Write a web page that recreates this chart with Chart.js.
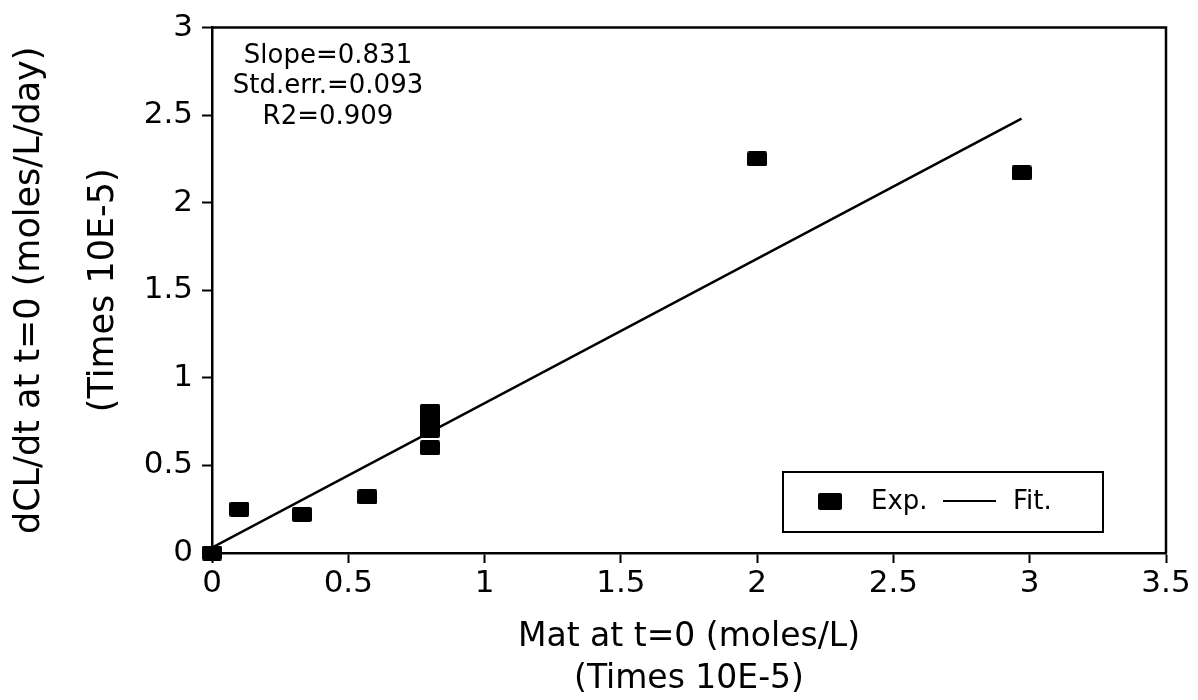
<!DOCTYPE html>
<html>
<head>
<meta charset="utf-8">
<script src="https://cdn.jsdelivr.net/npm/chart.js@4.4.0/dist/chart.umd.min.js"></script>
<style>
  html, body { margin:0; padding:0; background:#fff; }
</style>
</head>
<body>
<canvas id="chart" width="1198" height="700"></canvas>
<script>
// measured points (Times 10E-5)
let expX = [0, 0.1, 0.33, 0.57, 0.8, 0.8, 0.8, 0.8, 2.0, 2.97];
let expY = [0, 0.25, 0.22, 0.32, 0.6, 0.7, 0.75, 0.81, 2.25, 2.17];
// fitted line ends
let fitX = [0, 2.97];
let fitY = [0.03, 2.48];
let statLines = ['Slope=0.831', 'Std.err.=0.093', 'R2=0.909'];
let xTitle = ['Mat at t=0 (moles/L)', '(Times 10E-5)'];
let yTitle = ['dCL/dt at t=0 (moles/L/day)', '(Times 10E-5)'];

Chart.defaults.font.family = "'DejaVu Sans', sans-serif";
Chart.defaults.color = '#000';

function block(w, h){
    let c = document.createElement('canvas');
    c.width = w; c.height = h;
    let g = c.getContext('2d');
    g.fillStyle = '#000';
    g.beginPath();
    g.roundRect(0, 0, w, h, 2);
    g.fill();
    return c;
}

const extras = {
    id: 'extras',
    afterDraw(chart){
        let {ctx, chartArea: a} = chart;
        ctx.save();
        // top and right frame
        ctx.strokeStyle = '#000';
        ctx.lineWidth = 2.5;
        ctx.beginPath();
        ctx.moveTo(a.left, a.top);
        ctx.lineTo(a.right, a.top);
        ctx.lineTo(a.right, a.bottom);
        ctx.stroke();

        // stats text
        ctx.fillStyle = '#000';
        ctx.font = "26px 'DejaVu Sans'";
        ctx.textAlign = 'center';
        ctx.textBaseline = 'middle';
        statLines.forEach((s, i) => ctx.fillText(s, 328, 56 + i * 30.5));

        // legend box
        let ds = chart.data.datasets;
        ctx.lineWidth = 2;
        ctx.strokeRect(783, 472, 320, 60);
        ctx.drawImage(block(24, 17), 818, 493);
        ctx.textAlign = 'left';
        ctx.fillText(ds[0].label, 871, 502);
        ctx.beginPath();
        ctx.moveTo(943, 501);
        ctx.lineTo(996, 501);
        ctx.stroke();
        ctx.fillText(ds[1].label, 1013, 502);
        ctx.restore();
    }
};

let ctx = document.getElementById('chart').getContext('2d');
let chart = new Chart(ctx, {
    type: 'scatter',
    data: {
        datasets: [{
            label: 'Exp.',
            data: expX.map((x, i) => ({x: x, y: expY[i]})),
            pointStyle: block(20, 15),
            pointRadius: 10,
            backgroundColor: '#000',
            borderColor: '#000',
            clip: false
        }, {
            label: 'Fit.',
            data: fitX.map((x, i) => ({x: x, y: fitY[i]})),
            showLine: true,
            borderColor: '#000',
            borderWidth: 2.5,
            pointRadius: 0,
            tension: 0,
            fill: false
        }]
    },
    options: {
        responsive: false,
        animation: false,
        events: [],
        layout: { padding: { top: 22, right: 32, left: 0, bottom: 0 } },
        plugins: { legend: { display: false }, tooltip: { enabled: false } },
        scales: {
            x: {
                type: 'linear', min: 0, max: 3.5,
                ticks: { stepSize: 0.5, font: { size: 31 }, padding: 2, maxRotation: 0, callback: v => String(v) },
                grid: { drawOnChartArea: false, tickLength: 10, tickColor: '#000', tickWidth: 2 },
                border: { color: '#000', width: 2.5 },
                title: { display: true, text: xTitle, font: { size: 33, lineHeight: 1.27 }, padding: { top: 0, bottom: 0 } },
                afterFit(s){ s.height = 147; }
            },
            y: {
                min: 0, max: 3,
                ticks: { stepSize: 0.5, font: { size: 31 }, padding: 9, callback: v => String(v) },
                grid: { drawOnChartArea: false, tickLength: 10, tickColor: '#000', tickWidth: 2 },
                border: { color: '#000', width: 2.5 },
                title: { display: true, text: yTitle, font: { size: 35, lineHeight: 2.14 }, padding: { top: -8, bottom: 0 } },
                afterFit(s){ s.width = 212; }
            }
        }
    },
    plugins: [extras]
});
</script>
</body>
</html>
